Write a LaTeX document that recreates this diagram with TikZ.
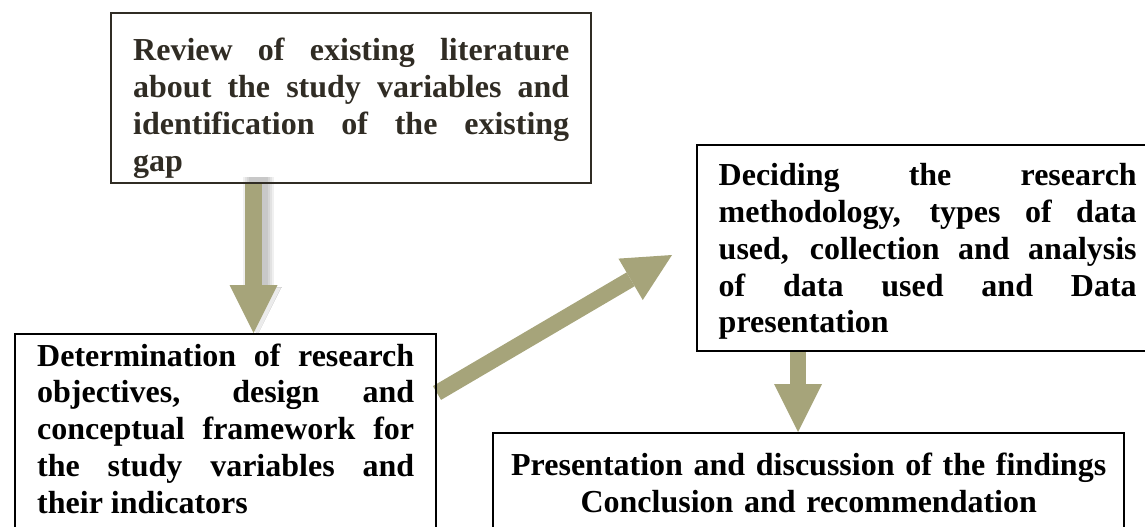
\documentclass[tikz,border=0pt]{standalone}
\usepackage{fontspec}
\setmainfont{Liberation Serif}
\usetikzlibrary{positioning, backgrounds, arrows.meta, calc}
\definecolor{khaki}{RGB}{166,164,122}
\definecolor{darkink}{RGB}{48,44,36}
\tikzset{
  stepbox/.style={draw, line width=2.4pt, anchor=north west, align=justify,
    inner xsep=22pt, inner ysep=0pt, font=\fontsize{32}{36.8}\selectfont\bfseries}
}
\tikzset{
  flowarrow/.style={khaki, line width=#1,
    -{Triangle[width=48pt,length=48pt,line width=0pt]}}
}
\newcommand{\hitop}[1]{\rule{0pt}{#1}}
\newcommand{\lowbot}[1]{\rule[-#1]{0pt}{#1}}
\hyphenpenalty=10000
\hbadness=10000

\begin{document}
\begin{tikzpicture}[x=1pt, y=-1pt]
  \useasboundingbox (0,0) rectangle (1145,527);

  % the four steps
  \node[stepbox, draw=darkink, text=darkink, text width=436pt,
        minimum width=480pt, minimum height=170pt] (review) at (110,12)
    {\hitop{43pt}Review of existing literature\linebreak
     about the study variables and\linebreak
     identification of the existing\linebreak
     gap\lowbot{5pt}};

  \node[stepbox, text width=377pt, minimum width=421pt,
        minimum height=203pt] (objectives) at (14,333)
    {\hitop{28pt}Determination of research\linebreak
     objectives, design and\linebreak
     conceptual framework for\linebreak
     the study variables and\linebreak
     their indicators\lowbot{20pt}};

  \node[stepbox, inner xsep=21.5pt, text width=418pt, minimum width=461pt,
        minimum height=206pt] (method) at (696,144)
    {\hitop{30pt}Deciding the research\linebreak
     methodology, types of data\linebreak
     used, collection and analysis\linebreak
     of data used and Data\linebreak
     presentation\lowbot{8pt}};

  \node[stepbox, align=center, inner xsep=5pt, text width=621pt,
        minimum width=631pt, minimum height=104pt] (findings) at (492,432)
    {\hitop{29pt}Presentation and discussion of the findings\\
     Conclusion and recommendation\lowbot{11pt}};

  \coordinate (a1) at (253.5,0);
  \coordinate (a3) at (798,0);
  \coordinate (tail2) at (437,393);
  \coordinate (tip2) at (672,255);

  \begin{scope}[on background layer]
    % soft shadow of the first arrow
    \foreach \w in {31,27,23,19}
      \draw[black, opacity=0.06, line width=\w pt]
        ($(review.south -| a1)+(5,-7)$) -- ($(review.south -| a1)+(5,104)$);
    \draw[black, opacity=0.08, line width=0pt, fill]
      ($(objectives.north -| a1)+(4,-46)$) ++(-24,0) -- ++(48,0) -- ++(-24,47) -- cycle;

    \draw[flowarrow=17pt] (review.south -| a1) -- (objectives.north -| a1);
    \draw[flowarrow=16pt] (tail2) -- (tip2);
    \draw[flowarrow=16pt] (method.south -| a3) -- (findings.north -| a3);
  \end{scope}
\end{tikzpicture}
\end{document}
